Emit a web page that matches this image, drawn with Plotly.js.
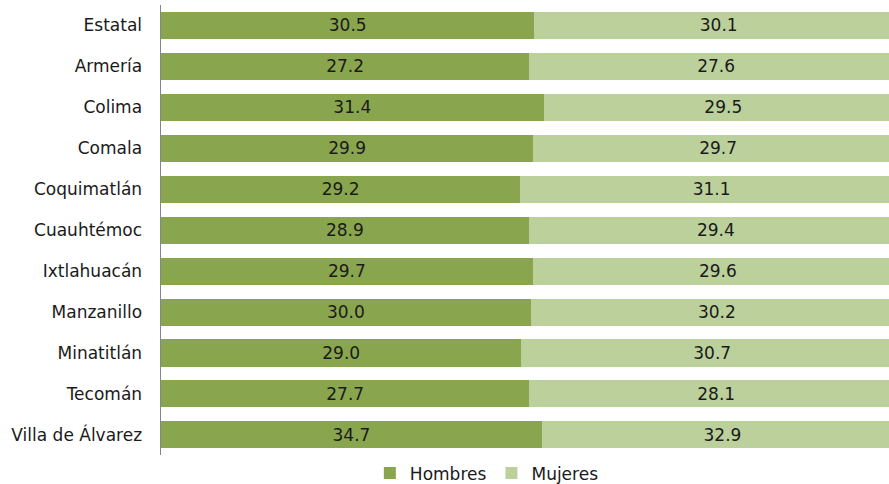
<!DOCTYPE html>
<html>
<head>
<meta charset="utf-8">
<script src="https://cdn.plot.ly/plotly-3.0.1.min.js"></script>
<style>
html,body{margin:0;padding:0;overflow:hidden;background:#fff;}
#chart{width:910px;height:484px;}
</style>
</head>
<body>
<div id="chart"></div>
<script>
const categories = ["Estatal","Armería","Colima","Comala","Coquimatlán","Cuauhtémoc","Ixtlahuacán","Manzanillo","Minatitlán","Tecomán","Villa de Álvarez"];
const hombres = [30.5,27.2,31.4,29.9,29.2,28.9,29.7,30.0,29.0,27.7,34.7];
const mujeres = [30.1,27.6,29.5,29.7,31.1,29.4,29.6,30.2,30.7,28.1,32.9];

const font = {family:"DejaVu Sans", size:17, color:"#1a1a1a"};

const traces = [
  {type:"bar", orientation:"h", name:"Hombres", y:categories, x:hombres,
   text:hombres.map(v=>v.toFixed(1)), textposition:"inside", insidetextanchor:"middle",
   textfont:font, marker:{color:"#89a54e"}, hoverinfo:"x+name"},
  {type:"bar", orientation:"h", name:"Mujeres", y:categories, x:mujeres,
   text:mujeres.map(v=>v.toFixed(1)), textposition:"inside", insidetextanchor:"middle",
   textfont:font, marker:{color:"#bbd09b"}, hoverinfo:"x+name"}
];

const layout = {
  width:910, height:484,
  margin:{l:161, r:7, t:5, b:28},
  barmode:"stack", barnorm:"percent", bargap:0.34,
  paper_bgcolor:"#fff", plot_bgcolor:"#fff",
  font:font,
  showlegend:true,
  legend:{orientation:"h", x:0.535, xref:"container", xanchor:"center", y:0.022, yref:"container", yanchor:"middle",
          font:{family:"DejaVu Sans", size:17, color:"#1a1a1a"}, traceorder:"normal", itemwidth:30},
  xaxis:{range:[0,100], showgrid:false, zeroline:false, showticklabels:false, showline:false, fixedrange:true},
  yaxis:{autorange:"reversed", showgrid:false, zeroline:false, showline:true, linecolor:"#868686", linewidth:1.5,
         ticks:"", ticklabelstandoff:14, tickfont:font, fixedrange:true}
};

Plotly.newPlot("chart", traces, layout, {displayModeBar:false, staticPlot:true});
</script>
</body>
</html>
